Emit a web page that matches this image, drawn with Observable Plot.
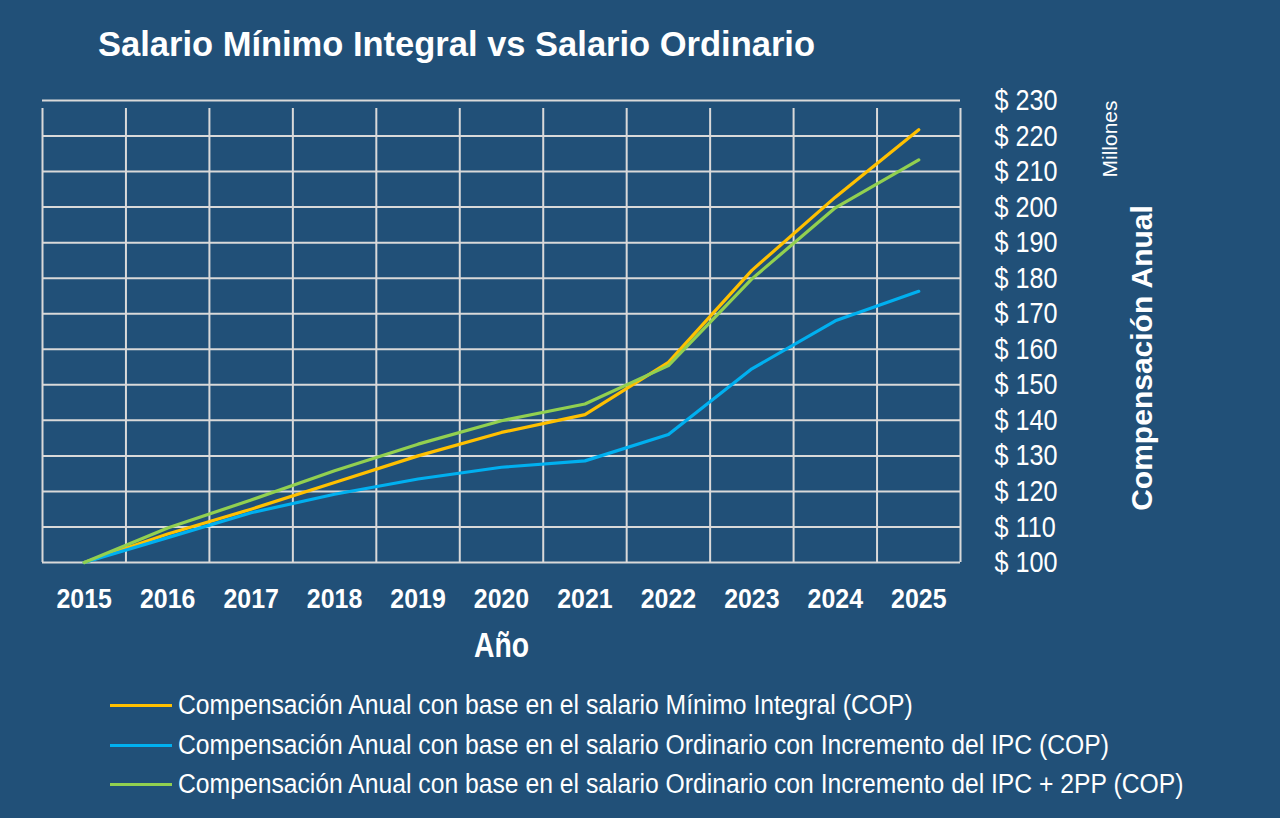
<!DOCTYPE html>
<html><head><meta charset="utf-8">
<script src="https://cdn.jsdelivr.net/npm/d3@7"></script>
<script src="https://cdn.jsdelivr.net/npm/@observablehq/plot@0.6"></script>
<style>
  html,body{margin:0;padding:0;background:#215078;width:1280px;height:818px;overflow:hidden;}
  body{font-family:"Liberation Sans",Arial,sans-serif;color:#fff;position:relative;}
  #title{position:absolute;left:98px;top:25px;font-size:34.5px;font-weight:bold;white-space:nowrap;}
  #chart{position:absolute;left:0;top:90px;}
  #legend{position:absolute;left:110px;top:686px;}
  .row{height:39.5px;display:flex;align-items:center;font-size:27px;white-space:nowrap;}
  .sw{width:62px;height:3px;margin-right:6px;flex:none;}
  .lt{display:inline-block;transform:scaleX(0.915);transform-origin:left center;}
</style>
</head><body>
<div id="title">Salario Mínimo Integral vs Salario Ordinario</div>
<div id="chart"></div>
<div id="legend"></div>
<script>
const years = [2015,2016,2017,2018,2019,2020,2021,2022,2023,2024,2025];
const minimoIntegral = [100,108,115,122.5,130,136.6,141.6,156.3,182.2,202.8,221.8];
const ordinarioIPC = [100,107,114,119.2,123.5,126.8,128.6,136,154.5,168,176.3];
const ordinarioIPC2PP = [100,109.7,117.6,125.8,133.3,139.9,144.6,155.4,179.8,199.8,213.3];
const seriesNames = [
  "Compensación Anual con base en el salario Mínimo Integral (COP)",
  "Compensación Anual con base en el salario Ordinario con Incremento del IPC (COP)",
  "Compensación Anual con base en el salario Ordinario con Incremento del IPC + 2PP (COP)"
];
const seriesColors = ["#FFC000","#00B0F0","#92D050"];
const yTicks = [100,110,120,130,140,150,160,170,180,190,200,210,220,230];

const seriesValues = [minimoIntegral, ordinarioIPC, ordinarioIPC2PP];
const rows = seriesValues.flatMap((vals, s) => vals.map((v, i) => ({year: years[i], value: v, series: seriesNames[s]})));
const gridX = [years[0]-0.5, ...years.map(y => y+0.5)];

const font = '"Liberation Sans",Arial,sans-serif';
const chart = Plot.plot({
  width: 1280,
  height: 572,
  marginLeft: 42,
  marginRight: 320,
  marginTop: 10,
  marginBottom: 100,
  style: {background: "transparent", color: "#fff", fontFamily: font, overflow: "visible"},
  x: {domain: [years[0]-0.5, years[years.length-1]+0.5], label: null, axis: null},
  y: {domain: [100, 230], label: null, axis: null},
  color: {domain: seriesNames, range: seriesColors},
  marks: [
    Plot.ruleY(yTicks, {stroke: "#D9D9D9", strokeWidth: 2}),
    Plot.ruleX(gridX, {y1: 100, y2: 230, stroke: "#D9D9D9", strokeWidth: 2, insetBottom: -8}),
    Plot.axisX(years, {tickSize: 0, tickPadding: 26, tickFormat: d => String(d), fontSize: 28, fontWeight: "bold", label: null, anchor: "bottom"}),
    Plot.axisY(yTicks, {anchor: "right", tickSize: 0, tickPadding: 34, tickFormat: d => "$ " + d, fontSize: 30, label: null, textAnchor: "start"}),
    Plot.text(["Año"], {frameAnchor: "bottom", x: 2020, dy: 94, text: d => d, fontSize: 35, fontWeight: "bold", fill: "#fff"}),
    Plot.line(rows, {x: "year", y: "value", stroke: "series", strokeWidth: 3.2})
  ]
});
document.getElementById("chart").appendChild(chart);

// condense tick labels to match the reference's narrow lettering
function condense(sel, f) {
  chart.querySelectorAll(sel).forEach(t => {
    const len = t.getComputedTextLength();
    t.setAttribute("textLength", (len * f).toFixed(2));
    t.setAttribute("lengthAdjust", "spacingAndGlyphs");
  });
}
condense('g[aria-label="x-axis tick label"] text', 0.89);
condense('g[aria-label="y-axis tick label"] text', 0.84);
condense('g[aria-label="text"] text', 0.81);

// right-side rotated labels
const svg = d3.select(chart);
svg.append("text").attr("transform", "translate(1117,49) rotate(-90)")
  .attr("text-anchor", "middle").attr("fill", "#fff").attr("font-size", 21)
  .attr("font-family", font).text("Millones");
svg.append("text").attr("transform", "translate(1152,268) rotate(-90)")
  .attr("text-anchor", "middle").attr("fill", "#fff").attr("font-size", 30).attr("font-weight", "bold")
  .attr("font-family", font).text("Compensación Anual");

const legend = document.getElementById("legend");
seriesNames.forEach((n, i) => {
  const r = document.createElement("div"); r.className = "row";
  const sw = document.createElement("div"); sw.className = "sw"; sw.style.background = seriesColors[i];
  const t = document.createElement("span"); t.className = "lt"; t.textContent = n;
  r.appendChild(sw); r.appendChild(t); legend.appendChild(r);
});
</script>
</body></html>
